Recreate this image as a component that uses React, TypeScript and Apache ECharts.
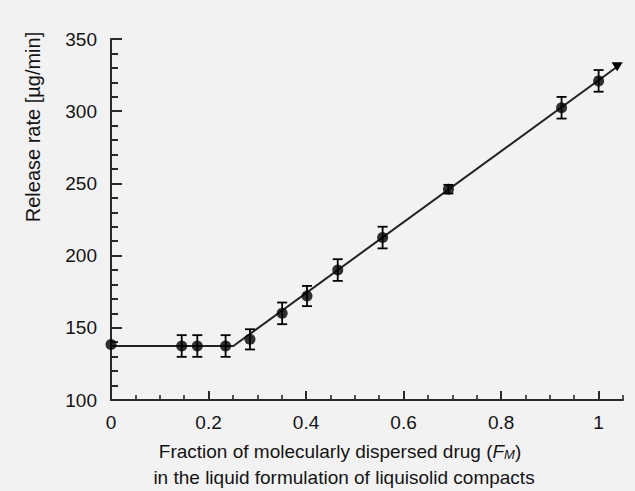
import React, { useEffect, useRef } from "react";
import * as echarts from "echarts";

// Data
const fractionFM = [0, 0.145, 0.177, 0.235, 0.285, 0.351, 0.402, 0.465, 0.557, 0.692, 0.924, 1.0];
const releaseRate = [138.5, 137.4, 137.4, 137.4, 142, 160, 172, 190, 212.5, 246, 302.4, 321];
const releaseErr = [0, 7.5, 7.5, 7.5, 7, 7.5, 7, 7.5, 7.5, 3, 7.5, 7.5];

// Fitted (two-segment) line
const fitX = [0, 0.251, 1.038];
const fitY = [137.4, 137.4, 330.8];

const xMajorTicks = [0, 0.2, 0.4, 0.6, 0.8, 1.0];
const xLabels = ["0", "0.2", "0.4", "0.6", "0.8", "1"];

const FONT = "Liberation Sans, Arial, Helvetica, sans-serif";
const TXT = "#141414";
const AX = "#2a2a2a";

export default function App() {
  const ref = useRef<HTMLDivElement>(null);
  useEffect(() => {
    document.body.style.margin = "0";
    const chart = echarts.init(ref.current!, undefined, { renderer: "svg" });
    const points = fractionFM.map((x, i) => [x, releaseRate[i]]);
    const errData = fractionFM.map((x, i) => [x, releaseRate[i] - releaseErr[i], releaseRate[i] + releaseErr[i]]);
    const fitData: any[] = fitX.map((x, i) =>
      i === fitX.length - 1
        ? { value: [x, fitY[i]], symbol: "triangle", symbolSize: [11, 9], symbolRotate: 180 }
        : { value: [x, fitY[i]], symbol: "none" }
    );
    chart.setOption({
      animation: false,
      backgroundColor: "#f2f2f2",
      grid: { left: 111, right: 12, top: 39, bottom: 91, containLabel: false },
      xAxis: [
        {
          type: "value",
          min: 0,
          max: 1.05,
          interval: 0.2,
          axisLine: { show: true, onZero: false, lineStyle: { color: AX, width: 2 } },
          axisTick: { show: true, inside: true, length: 9, customValues: xMajorTicks, lineStyle: { color: AX, width: 2 } },
          axisLabel: {
            customValues: xMajorTicks,
            formatter: (v: number) => xLabels[xMajorTicks.findIndex((t) => Math.abs(t - v) < 1e-6)] ?? "",
            color: TXT,
            fontSize: 19,
            fontFamily: FONT,
            margin: 13,
          },
          splitLine: { show: false },
        },
        {
          type: "value",
          min: 0,
          max: 1.05,
          interval: 0.05,
          position: "bottom",
          axisLine: { show: false },
          axisTick: { show: true, inside: true, length: 5, lineStyle: { color: AX, width: 1.6 } },
          axisLabel: { show: false },
          splitLine: { show: false },
        },
      ],
      yAxis: {
        type: "value",
        min: 100,
        max: 350,
        interval: 50,
        axisLine: { show: true, lineStyle: { color: AX, width: 2 } },
        axisTick: { show: true, inside: true, length: 11, lineStyle: { color: AX, width: 2 } },
        minorTick: { show: true, splitNumber: 5, length: 7, lineStyle: { color: AX, width: 2 } },
        axisLabel: { color: TXT, fontSize: 19, fontFamily: FONT, margin: 14 },
        splitLine: { show: false },
      },
      graphic: [
        {
          type: "text",
          x: 33,
          y: 127,
          rotation: Math.PI / 2,
          style: {
            text: "Release rate [µg/min]",
            fill: TXT,
            font: `20px ${FONT}`,
            align: "center",
            verticalAlign: "middle",
          },
        },
        {
          type: "text",
          x: 340,
          y: 451,
          style: {
            text: "Fraction of molecularly dispersed drug ({i|F}{s|M})",
            fill: TXT,
            font: `19px ${FONT}`,
            align: "center",
            verticalAlign: "middle",
            rich: {
              i: { fontStyle: "italic", fontSize: 19, fontFamily: FONT, fill: TXT },
              s: { fontStyle: "italic", fontSize: 13, fontFamily: FONT, fill: TXT, verticalAlign: "bottom" },
            },
          },
        },
        {
          type: "text",
          x: 344,
          y: 477,
          style: {
            text: "in the liquid formulation of liquisolid compacts",
            fill: TXT,
            font: `19px ${FONT}`,
            align: "center",
            verticalAlign: "middle",
          },
        },
      ],
      series: [
        {
          type: "line",
          data: fitData,
          symbol: "none",
          lineStyle: { color: "#222", width: 2 },
          itemStyle: { color: "#000" },
          z: 2,
        },
        {
          type: "custom",
          data: errData,
          renderItem: (params: any, api: any) => {
            const x = api.value(0);
            const lo = api.coord([x, api.value(1)]);
            const hi = api.coord([x, api.value(2)]);
            if (Math.abs(hi[1] - lo[1]) < 1) return null;
            const w = 5;
            const st = { stroke: "#000", lineWidth: 1.8 };
            return {
              type: "group",
              children: [
                { type: "line", shape: { x1: lo[0], y1: lo[1], x2: hi[0], y2: hi[1] }, style: st },
                { type: "line", shape: { x1: lo[0] - w, y1: lo[1], x2: lo[0] + w, y2: lo[1] }, style: st },
                { type: "line", shape: { x1: hi[0] - w, y1: hi[1], x2: hi[0] + w, y2: hi[1] }, style: st },
              ],
            };
          },
          z: 3,
        },
        {
          type: "scatter",
          data: points,
          symbol: "circle",
          symbolSize: 11,
          itemStyle: { color: "#000" },
          z: 4,
        },
      ],
    });
    return () => chart.dispose();
  }, []);
  return <div ref={ref} style={{ width: 635, height: 491 }} />;
}
